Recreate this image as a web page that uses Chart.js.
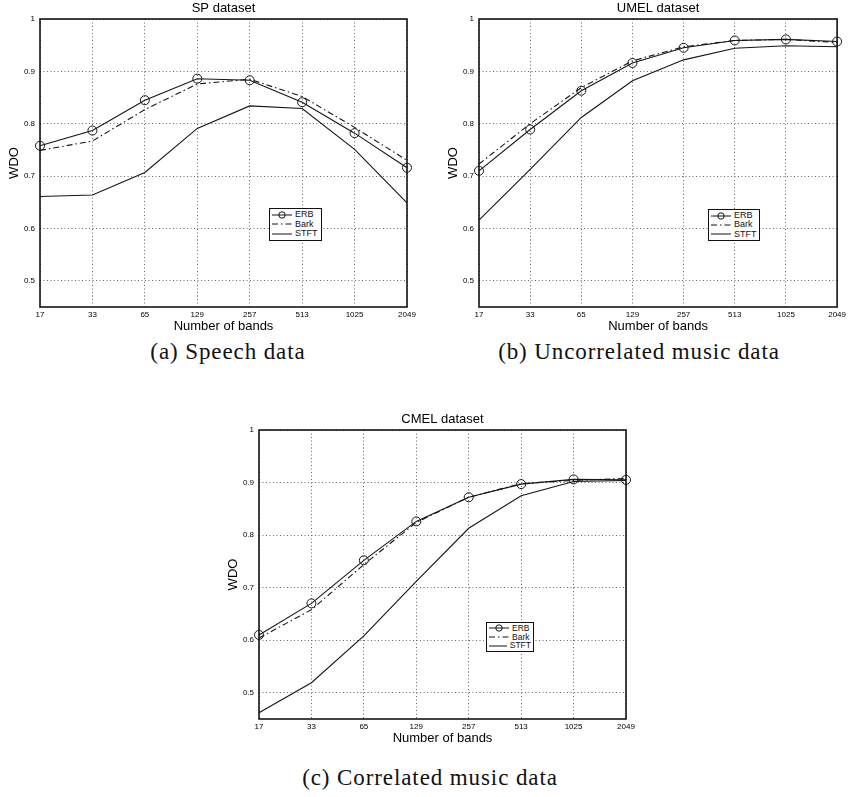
<!DOCTYPE html>
<html>
<head>
<meta charset="utf-8">
<script src="https://cdn.jsdelivr.net/npm/chart.js@4.4.0/dist/chart.umd.min.js"></script>
<style>
  body { margin: 0; background: #fff; width: 849px; height: 797px; position: relative; overflow: hidden; }
  canvas { position: absolute; }
  .cap { position: absolute; font-family: "Liberation Serif", serif; font-size: 23px; letter-spacing: 0.9px; color: #111; transform: translate(-50%, -50%); white-space: nowrap; }
  .leg { position: absolute; border: 1.3px solid #111; background: #fff; font-family: "Liberation Sans", Arial, sans-serif; font-size: 9px; color: #111; box-sizing: border-box; padding: 1px 2px; }
  .leg div { display: flex; align-items: center; }
  .leg svg { margin-right: 3px; }
</style>
</head>
<body>
<canvas id="spChart" width="425" height="334" style="left:0px;top:0px"></canvas>
<canvas id="umelChart" width="410" height="334" style="left:439px;top:0px"></canvas>
<canvas id="cmelChart" width="425" height="335" style="left:219px;top:411px"></canvas>
<div class="cap" style="left:228px;top:352px">(a) Speech data</div>
<div class="cap" style="left:639px;top:352px">(b) Uncorrelated music data</div>
<div class="cap" style="left:430px;top:778px">(c) Correlated music data</div>
<div class="leg" id="legSp" style="left:269px;top:208px;width:53px;height:33px"></div>
<div class="leg" id="legUmel" style="left:708px;top:209px;width:52px;height:32px"></div>
<div class="leg" id="legCmel" style="left:486px;top:622px;width:48px;height:30px;font-size:8.5px"></div>
<script>
var bands = ['17', '33', '65', '129', '257', '513', '1025', '2049'];
var seriesNames = ['ERB', 'Bark', 'STFT'];
var yTicks = [0.5, 0.6, 0.7, 0.8, 0.9, 1];

// SP dataset
var spErb  = [0.758, 0.787, 0.845, 0.886, 0.883, 0.841, 0.782, 0.716];
var spBark = [0.749, 0.767, 0.827, 0.876, 0.885, 0.852, 0.793, 0.730];
var spStft = [0.661, 0.664, 0.707, 0.791, 0.834, 0.829, 0.751, 0.649];

// UMEL dataset
var umelErb  = [0.710, 0.789, 0.863, 0.916, 0.945, 0.959, 0.961, 0.957];
var umelBark = [0.723, 0.800, 0.869, 0.920, 0.947, 0.959, 0.961, 0.955];
var umelStft = [0.616, 0.713, 0.812, 0.882, 0.922, 0.944, 0.949, 0.947];

// CMEL dataset
var cmelErb  = [0.610, 0.670, 0.752, 0.826, 0.872, 0.897, 0.906, 0.905];
var cmelBark = [0.604, 0.658, 0.744, 0.824, 0.872, 0.898, 0.904, 0.908];
var cmelStft = [0.462, 0.519, 0.608, 0.712, 0.813, 0.875, 0.902, 0.904];

var ink = '#151515';
var dashes = [[], [6, 3, 1.5, 3], []];

var framePlugin = {
    id: 'frame',
    afterDatasetsDraw: function(chart) {
        var a = chart.chartArea, c = chart.ctx;
        c.save();
        c.strokeStyle = ink;
        c.lineWidth = 1.6;
        c.strokeRect(a.left, a.top, a.right - a.left, a.bottom - a.top);
        c.restore();
    }
};

function makeChart(id, title, erb, bark, stft, rightPad) {
    var vals = [erb, bark, stft];
    var datasets = seriesNames.map(function(name, i) {
        return {
            label: name,
            data: vals[i],
            borderColor: ink,
            borderWidth: 1.1,
            borderDash: dashes[i],
            tension: 0,
            clip: false,
            pointRadius: i === 0 ? 4.5 : 0,
            pointStyle: 'circle',
            pointBorderColor: ink,
            pointBorderWidth: 1,
            pointBackgroundColor: 'rgba(0,0,0,0)'
        };
    });
    return new Chart(document.getElementById(id).getContext('2d'), {
        type: 'line',
        data: { labels: bands, datasets: datasets },
        plugins: [framePlugin],
        options: {
            responsive: false,
            animation: false,
            layout: { padding: { left: 0, right: rightPad, top: 0, bottom: 0 } },
            plugins: {
                legend: { display: false },
                tooltip: { enabled: false },
                title: {
                    display: true,
                    text: title,
                    fullSize: false,
                    color: '#000',
                    font: { family: 'Liberation Sans', size: 13, weight: 'normal' },
                    padding: { top: 1, bottom: 2.4 }
                }
            },
            scales: {
                x: {
                    type: 'category',
                    offset: false,
                    border: { display: false, dash: [1, 2.5] },
                    grid: { color: '#666', drawTicks: false },
                    ticks: { color: '#000', font: { family: 'Liberation Sans', size: 8 }, padding: 3, maxRotation: 0, autoSkip: false },
                    title: { display: true, text: 'Number of bands', color: '#000', font: { family: 'Liberation Sans', size: 13 }, padding: { top: 0, bottom: 0 } },
                    afterFit: function(s) { s.height = 27; }
                },
                y: {
                    min: 0.45,
                    max: 1,
                    border: { display: false, dash: [1, 2.5] },
                    grid: { color: '#666', drawTicks: false },
                    afterBuildTicks: function(s) { s.ticks = yTicks.map(function(v) { return { value: v }; }); },
                    ticks: {
                        color: '#000',
                        font: { family: 'Liberation Sans', size: 8 },
                        padding: 5,
                        callback: function(v) { return String(Math.round(v * 10) / 10); }
                    },
                    title: { display: true, text: 'WDO', color: '#000', font: { family: 'Liberation Sans', size: 13 }, padding: { top: 7, bottom: 0 } },
                    afterFit: function(s) { s.width = 40; }
                }
            }
        }
    });
}

makeChart('spChart', 'SP dataset', spErb, spBark, spStft, 18);
makeChart('umelChart', 'UMEL dataset', umelErb, umelBark, umelStft, 5);
makeChart('cmelChart', 'CMEL dataset', cmelErb, cmelBark, cmelStft, 18);

function makeLegend(id) {
    var box = document.getElementById(id);
    var rowH = (box.clientHeight - 2) / 3;
    seriesNames.forEach(function(name, i) {
        var row = document.createElement('div');
        row.style.height = rowH + 'px';
        row.style.lineHeight = rowH + 'px';
        var dash = dashes[i].length ? ' stroke-dasharray="' + dashes[i].join(' ') + '"' : '';
        var svg = '<svg width="20" height="8"><line x1="0" y1="4" x2="20" y2="4" stroke="' + ink + '" stroke-width="1"' + dash + '/>';
        if (i === 0) svg += '<circle cx="10" cy="4" r="3.2" fill="none" stroke="' + ink + '" stroke-width="1"/>';
        svg += '</svg>';
        row.innerHTML = svg + '<span>' + name + '</span>';
        box.appendChild(row);
    });
}
makeLegend('legSp');
makeLegend('legUmel');
makeLegend('legCmel');
</script>
</body>
</html>
